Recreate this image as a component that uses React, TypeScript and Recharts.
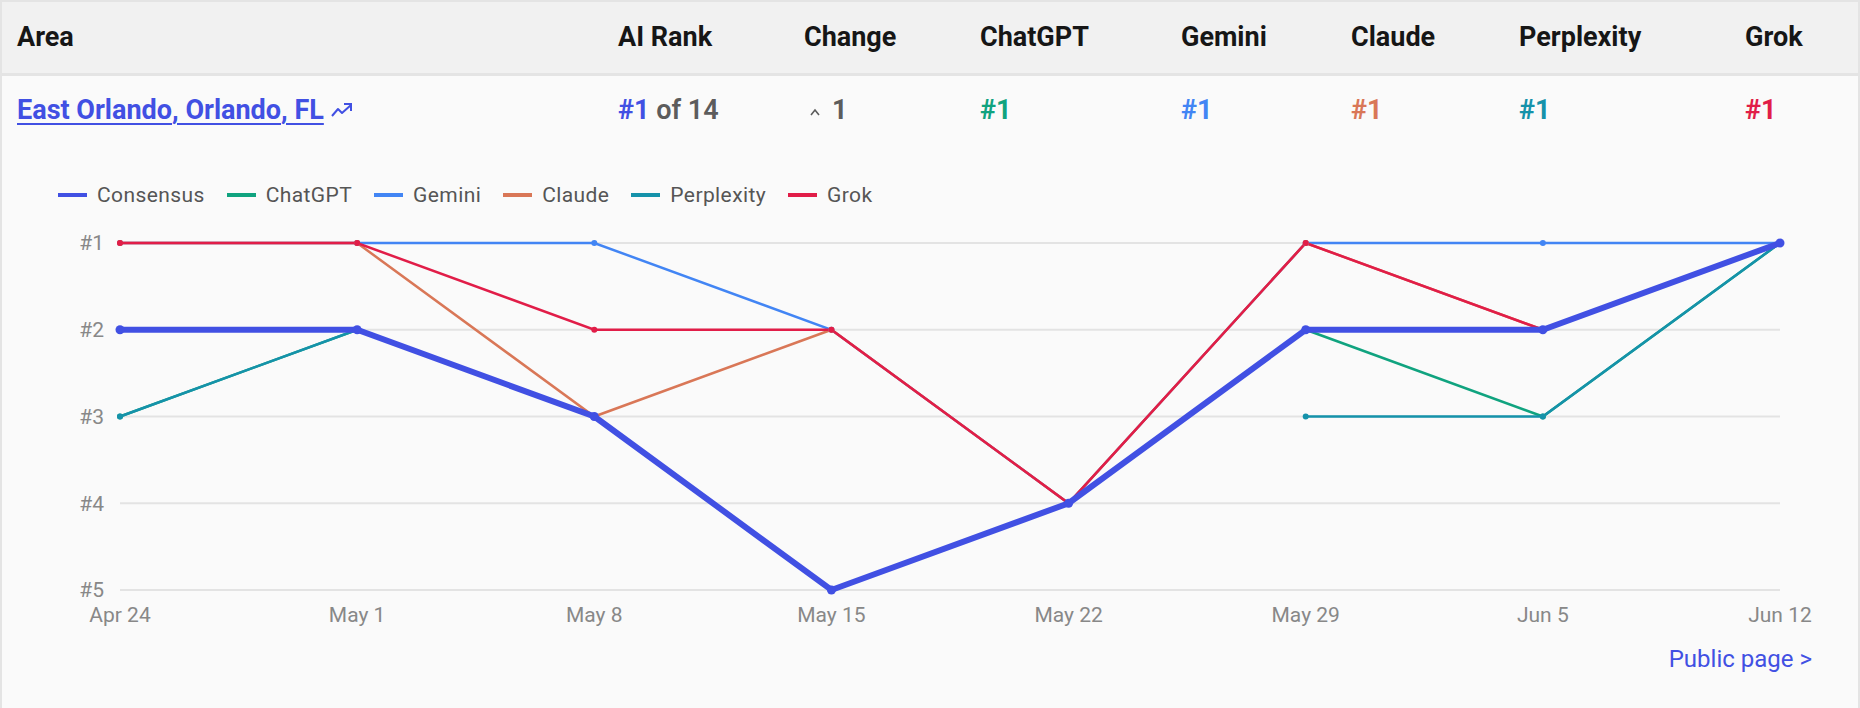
import React from "react";
import { LineChart, Line, XAxis, YAxis, CartesianGrid } from "recharts";

const dates = ["Apr 24", "May 1", "May 8", "May 15", "May 22", "May 29", "Jun 5", "Jun 12"];
const consensus = [2, 2, 3, 5, 4, 2, 2, 1];
const chatgpt = [3, 2, 3, 5, 4, 2, 3, 1];
const gemini = [1, 1, 1, 2, 4, 1, 1, 1];
const claude = [1, 1, 3, 2, 4, 1, 2, 1];
const perplexity = [3, 2, null, null, null, 3, 3, 1];
const grok = [1, 1, 2, 2, 4, 1, 2, 1];
const rankTicks = [1, 2, 3, 4, 5];

const headers = ["Area", "AI Rank", "Change", "ChatGPT", "Gemini", "Claude", "Perplexity", "Grok"];
const currentRanks = { chatgpt: 1, gemini: 1, claude: 1, perplexity: 1, grok: 1 };
const areaName = "East Orlando, Orlando, FL";
const aiRank = 1;
const areaCount = 14;
const rankChange = 1;

const COLORS = {
  consensus: "#4150e3",
  chatgpt: "#10a37f",
  gemini: "#4285f4",
  claude: "#d97757",
  perplexity: "#1592aa",
  grok: "#e11d48",
};

// legend order / draw order
const legendItems = [
  { key: "consensus", label: "Consensus" },
  { key: "chatgpt", label: "ChatGPT" },
  { key: "gemini", label: "Gemini" },
  { key: "claude", label: "Claude" },
  { key: "perplexity", label: "Perplexity" },
  { key: "grok", label: "Grok" },
];
const drawOrder = ["chatgpt", "gemini", "claude", "perplexity", "grok", "consensus"];

const colX = [17, 618, 804, 980, 1181, 1351, 1519, 1745];
const FONT = "Roboto, 'Noto Sans', sans-serif";

function TrendIcon() {
  return (
    <svg width="24" height="16" viewBox="0 0 24 16" style={{ marginLeft: 6 }}>
      <polyline
        points="2,14 8,7 12,11 21,3"
        fill="none"
        stroke={COLORS.consensus}
        strokeWidth="2"
        strokeLinejoin="round"
      />
      <polyline points="14,2 21,2 21,9" fill="none" stroke={COLORS.consensus} strokeWidth="2" />
    </svg>
  );
}

export default function App() {
  const data = dates.map((d, i) => ({
    date: d,
    consensus: consensus[i],
    chatgpt: chatgpt[i],
    gemini: gemini[i],
    claude: claude[i],
    perplexity: perplexity[i],
    grok: grok[i],
  }));

  const rowCells: Array<{ key: keyof typeof currentRanks }> = [
    { key: "chatgpt" },
    { key: "gemini" },
    { key: "claude" },
    { key: "perplexity" },
    { key: "grok" },
  ];

  return (
    <div
      style={{
        position: "fixed",
        top: 0,
        left: 0,
        width: 1860,
        height: 708,
        boxSizing: "border-box",
        background: "#fafafa",
        borderTop: "2px solid #e4e4e4",
        borderLeft: "2px solid #e4e4e4",
        borderRight: "2px solid #e4e4e4",
        fontFamily: FONT,
        overflow: "hidden",
      }}
    >
      {/* header row */}
      <div
        style={{
          position: "absolute",
          top: 0,
          left: 0,
          right: 0,
          height: 71,
          background: "#f1f1f1",
          borderBottom: "3px solid #e4e4e4",
        }}
      >
        {headers.map((h, i) => (
          <div
            key={h}
            style={{
              position: "absolute",
              left: colX[i] - 2,
              top: 0,
              height: 71,
              lineHeight: "71px",
              fontSize: 27,
              fontWeight: 700,
              color: "#161616",
            }}
          >
            {h}
          </div>
        ))}
      </div>

      {/* data row */}
      <div style={{ position: "absolute", top: 73, left: 0, right: 0, height: 70, fontSize: 27, fontWeight: 700 }}>
        <div style={{ position: "absolute", left: colX[0] - 2, top: 0, height: 70, display: "flex", alignItems: "center" }}>
          <span style={{ color: COLORS.consensus, textDecoration: "underline", textUnderlineOffset: 4, textDecorationThickness: 2 }}>
            {areaName}
          </span>
          <TrendIcon />
        </div>
        <div style={{ position: "absolute", left: colX[1] - 2, top: 0, lineHeight: "70px" }}>
          <span style={{ color: COLORS.consensus }}>#{aiRank}</span>
          <span style={{ color: "#5c5c5c", fontWeight: 600 }}> of {areaCount}</span>
        </div>
        <div style={{ position: "absolute", left: colX[2] - 2, top: 0, height: 70, display: "flex", alignItems: "center", color: "#5c5c5c" }}>
          <svg width="14" height="10" viewBox="0 0 14 10" style={{ marginLeft: 4, marginRight: 10, marginTop: 4 }}>
            <polyline points="3,8 7,3 11,8" fill="none" stroke="#5c5c5c" strokeWidth="1.6" />
          </svg>
          <span>{rankChange}</span>
        </div>
        {rowCells.map((c, i) => (
          <div key={c.key} style={{ position: "absolute", left: colX[i + 3] - 2, top: 0, lineHeight: "70px", color: COLORS[c.key] }}>
            #{currentRanks[c.key]}
          </div>
        ))}
      </div>

      {/* legend */}
      <div
        style={{
          position: "absolute",
          top: 179,
          left: 56,
          height: 28,
          display: "flex",
          alignItems: "center",
          fontSize: 21,
          letterSpacing: 0.4,
          color: "#555",
        }}
      >
        {legendItems.map((it) => (
          <div key={it.key} style={{ display: "flex", alignItems: "center", marginRight: 22 }}>
            <div style={{ width: 29, height: 4, background: COLORS[it.key as keyof typeof COLORS], marginRight: 10 }} />
            <span>{it.label}</span>
          </div>
        ))}
      </div>

      {/* chart */}
      <div style={{ position: "absolute", top: 139, left: -2 }}>
        <LineChart
          width={1860}
          height={566}
          data={data}
          margin={{ top: 102, right: 80, bottom: 87, left: 0 }}
        >
          <CartesianGrid vertical={false} stroke="#e3e3e3" strokeWidth={2} />
          <XAxis
            dataKey="date"
            axisLine={false}
            tickLine={false}
            height={30}
            interval={0}
            tickMargin={11}
            tick={{ fill: "#888", fontSize: 21, fontFamily: FONT }}
          />
          <YAxis
            type="number"
            reversed
            domain={[1, 5]}
            ticks={rankTicks}
            width={120}
            axisLine={false}
            tickLine={false}
            tickMargin={10}
            tickFormatter={(v: number) => `#${v}`}
            tick={{ fill: "#888", fontSize: 21, fontFamily: FONT }}
          />
          {drawOrder.map((k) => {
            const isCons = k === "consensus";
            const color = COLORS[k as keyof typeof COLORS];
            return (
              <Line
                key={k}
                type="linear"
                dataKey={k}
                stroke={color}
                strokeWidth={isCons ? 6 : 2.5}
                dot={{ r: isCons ? 4.5 : 3, fill: color, stroke: color, strokeWidth: 0 }}
                activeDot={false}
                connectNulls={false}
                isAnimationActive={false}
              />
            );
          })}
        </LineChart>
      </div>

      <div
        style={{
          position: "absolute",
          right: 46,
          top: 643,
          fontSize: 24,
          color: COLORS.consensus,
        }}
      >
        Public page &gt;
      </div>
    </div>
  );
}
